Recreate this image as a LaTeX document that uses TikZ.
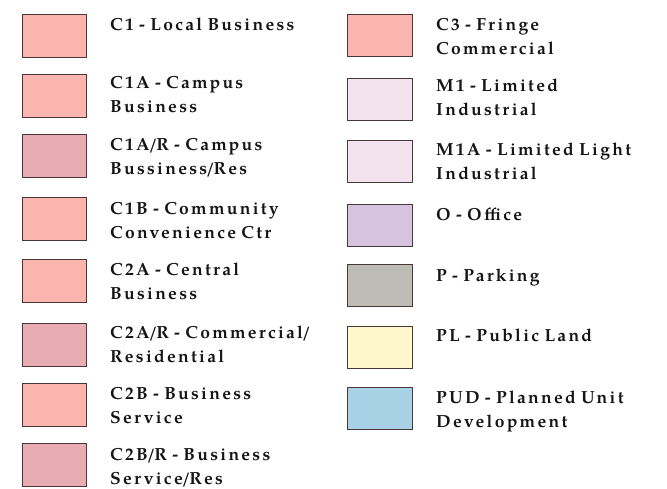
\documentclass[tikz,border=0pt]{standalone}
\usepackage{fontspec}
\setmainfont{texgyrepagella}[Extension=.otf, UprightFont=*-regular, BoldFont=*-bold, ItalicFont=*-italic, BoldItalicFont=*-bolditalic, LetterSpace=13, WordSpace=0.8]
\definecolor{salmon}{HTML}{F9B5AE}
\definecolor{rose}{HTML}{E8ACB3}
\definecolor{lilac}{HTML}{F3E3EE}
\definecolor{office}{HTML}{D6C3E0}
\definecolor{parking}{HTML}{BDBDB5}
\definecolor{publicland}{HTML}{FDF7CB}
\definecolor{pud}{HTML}{A8D1E6}
\definecolor{edgec}{HTML}{4A3838}
\definecolor{txt}{HTML}{151515}
\tikzset{
  swatch/.style={draw=edgec, line width=1.4pt, anchor=north west, inner sep=0pt, minimum width=64pt, minimum height=43pt},
  legtext/.style={anchor=north west, inner sep=0pt, align=left, text=txt, font=\bfseries\fontsize{17.5}{24}\selectfont}
}
\newcommand{\fst}{\rule{0pt}{13.5pt}}
\newcommand{\tslash}{\kern-1.2pt/\kern-1.2pt}
\begin{document}
\begin{tikzpicture}[x=1pt,y=-1pt]
\useasboundingbox[fill=white] (0,0) rectangle (667,489);
% left column
\node[swatch, fill=salmon] (s1) at (22,14) {};
\node[legtext] (t1) at (110,30.7-13.5) {\fst C1 - Local Business};
\node[swatch, fill=salmon] (s2) at (22,74) {};
\node[legtext] (t2) at (110,88.3-13.5) {\fst C1A - Campus\\Business};
\node[swatch, fill=rose] (s3) at (22,134) {};
\node[legtext] (t3) at (110,150.7-13.5) {\fst C1A\tslash R - Campus\\Bussiness\tslash Res};
\node[swatch, fill=salmon] (s4) at (22,197) {};
\node[legtext] (t4) at (110,214.3-13.5) {\fst C1B - Community\\Convenience Ctr};
\node[swatch, fill=salmon] (s5) at (22,259) {};
\node[legtext] (t5) at (110,275-13.5) {\fst C2A - Central\\Business};
\node[swatch, fill=rose] (s6) at (22,323) {};
\node[legtext] (t6) at (110,338.3-13.5) {\fst C2A\tslash R - Commercial\kern-1.2pt/\\Residential};
\node[swatch, fill=salmon] (s7) at (22,383) {};
\node[legtext] (t7) at (110,399.3-13.5) {\fst C2B - Business\\Service};
\node[swatch, fill=rose] (s8) at (22,443) {};
\node[legtext] (t8) at (110,460-13.5) {\fst C2B\tslash R - Business\\Service\tslash Res};
% right column
\node[swatch, fill=salmon, minimum width=65pt, minimum height=42pt] (r1) at (347,14) {};
\node[legtext] (u1) at (436,30-13.5) {\fst C3 - Fringe\\Commercial};
\node[swatch, fill=lilac, minimum width=65pt, minimum height=42pt] (r2) at (347,78) {};
\node[legtext] (u2) at (436,91.7-13.5) {\fst M1 - Limited\\Industrial};
\node[swatch, fill=lilac, minimum width=65pt, minimum height=42pt] (r3) at (347,140) {};
\node[legtext] (u3) at (436,155.7-13.5) {\fst M1A - Limited Light\\Industrial};
\node[swatch, fill=office, minimum width=65pt, minimum height=42pt] (r4) at (347,204) {};
\node[legtext] (u4) at (436,220-13.5) {\fst O - Office};
\node[swatch, fill=parking, minimum width=65pt, minimum height=42pt] (r5) at (347,264) {};
\node[legtext] (u5) at (436,281.7-13.5) {\fst P - Parking};
\node[swatch, fill=publicland, minimum width=65pt, minimum height=42pt] (r6) at (347,326) {};
\node[legtext] (u6) at (436,341.7-13.5) {\fst PL - Public Land};
\node[swatch, fill=pud, minimum width=65pt, minimum height=42pt] (r7) at (347,387) {};
\node[legtext] (u7) at (436,403.3-13.5) {\fst PUD - Planned Unit\\Development};
\end{tikzpicture}
\end{document}
